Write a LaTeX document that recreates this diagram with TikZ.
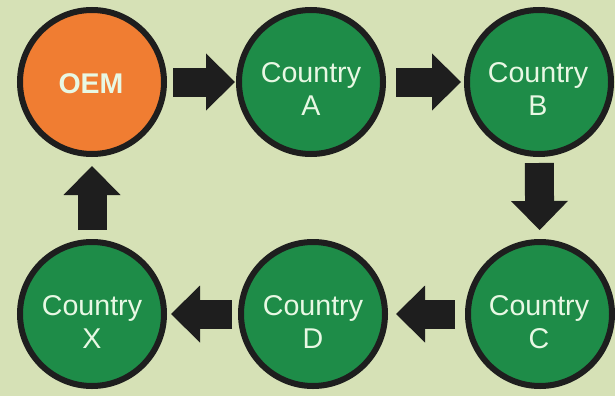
\documentclass[tikz,border=0pt]{standalone}
\usepackage{fontspec}
\setmainfont{Liberation Sans}
\usetikzlibrary{arrows.meta,calc}
\definecolor{bg}{RGB}{214,225,182}
\definecolor{oemorange}{RGB}{240,125,50}
\definecolor{cgreen}{RGB}{30,140,72}
\definecolor{outline}{RGB}{30,30,30}
\definecolor{txt}{RGB}{232,248,228}
\tikzset{
  x=1pt, y=-1pt,
  cnode/.style={circle, draw=outline, line width=6pt, minimum size=144pt, inner sep=0pt, fill=cgreen},
  onode/.style={cnode, fill=oemorange},
  lbl/.style={anchor=base, inner sep=0pt, text=txt, font=\fontsize{28.6}{33}\selectfont},
  olbl/.style={lbl, font=\fontsize{28.5}{33}\selectfont\bfseries},
  blockarrow/.style={draw=outline, line width=29pt,
    -{Triangle[length=29pt,width=57pt,line width=0pt]}}
}
\begin{document}
\begin{tikzpicture}
\fill[bg] (0,0) rectangle (615,396);
\useasboundingbox (0,0) rectangle (615,396);
\node[onode] (oem) at (92,82) {};
\node[cnode] (a) at (311,82) {};
\node[cnode] (b) at (539,82) {};
\node[cnode] (c) at (540,314) {};
\node[cnode] (d) at (313,314) {};
\node[cnode] (x) at (92,314) {};
\node[olbl] (oemt) at ($(oem)+(-1,11)$) {OEM};
\node[lbl] (a1) at ($(a)+(0,0)$) {Country};
\node[lbl] (a2) at ($(a)+(0,33)$) {A};
\node[lbl] (b1) at ($(b)+(-1,0)$) {Country};
\node[lbl] (b2) at ($(b)+(-1,33)$) {B};
\node[lbl] (c1) at ($(c)+(-1,1)$) {Country};
\node[lbl] (c2) at ($(c)+(-1,34)$) {C};
\node[lbl] (d1) at ($(d)+(0,1)$) {Country};
\node[lbl] (d2) at ($(d)+(0,34)$) {D};
\node[lbl] (x1) at ($(x)+(0,1)$) {Country};
\node[lbl] (x2) at ($(x)+(0,34)$) {X};
\draw[blockarrow, shorten <=6pt, shorten >=1pt] (oem) -- (a);
\draw[blockarrow, shorten <=10pt, shorten >=3pt] (a) -- (b);
\draw[blockarrow, shorten <=6pt, shorten >=9pt] (b) -- (c);
\draw[blockarrow, shorten <=10pt, shorten >=8pt] (c) -- (d);
\draw[blockarrow, shorten <=6pt, shorten >=4pt] (d) -- (x);
\draw[blockarrow, shorten <=9pt, shorten >=9pt] (x) -- (oem);
\end{tikzpicture}
\end{document}
